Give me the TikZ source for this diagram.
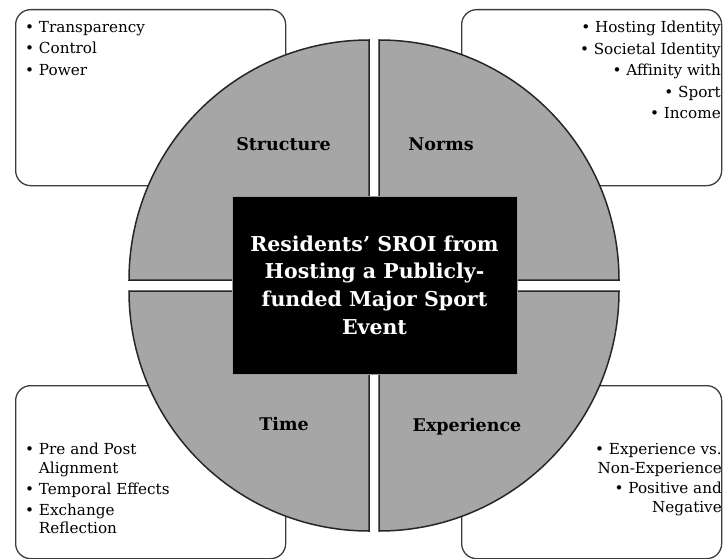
\documentclass[tikz,border=0pt]{standalone}
\usepackage{fontspec}
\setmainfont{DejaVu Serif}

\definecolor{quadgray}{RGB}{166,166,166}
\definecolor{edgegray}{RGB}{60,60,60}

\begin{document}
\begin{tikzpicture}[x=1pt,y=-1pt,
    panel/.style={draw=edgegray,line width=1.3pt,rounded corners=15pt,anchor=north west,inner sep=0pt},
    quad/.style={fill=quadgray,draw=black!85,line width=1.5pt},
    lbl/.style={anchor=base,font=\bfseries\fontsize{17.5}{21}\selectfont},
    items/.style={inner sep=0pt,font=\fontsize{15.2}{21.5}\selectfont}]

      \useasboundingbox (0,0) rectangle (723,559);

      \node[panel,minimum width=270pt,minimum height=176pt] (tlbox) at (15,9){};
      \node[panel,minimum width=260pt,minimum height=176pt] (trbox) at (461,9){};
      \node[panel,minimum width=270pt,minimum height=173pt] (blbox) at (15,385){};
      \node[panel,minimum width=260pt,minimum height=173pt] (brbox) at (461,385){};

      \draw[quad] (369,280) -- (129,280) arc[start angle=180,end angle=270,radius=240] -- cycle;
      \draw[quad] (379,280) -- (379,40) arc[start angle=270,end angle=360,radius=240] -- cycle;
      \draw[quad] (379,291) -- (619,291) arc[start angle=0,end angle=90,radius=240] -- cycle;
      \draw[quad] (369,291) -- (369,531) arc[start angle=90,end angle=180,radius=240] -- cycle;

      \node[fill=black,draw=gray!80,line width=0.8pt,minimum width=285pt,minimum height=178pt,
            text=white,align=center,font=\bfseries\fontsize{20.5}{27.7}\selectfont] (sroi) at (374.5,285)
            {Residents’ SROI from\\Hosting a Publicly-\\funded Major Sport\\Event};

      \node[lbl] (structure) at (283.5,151){Structure};
      \node[lbl] (norms) at (441,151){Norms};
      \node[lbl] (time) at (284,430){Time};
      \node[lbl] (experience) at (467,431){Experience};

      \node[items,anchor=north west,align=left] (tlitems) at (25,21)
            {• Transparency\\• Control\\• Power};
      \node[items,anchor=north east,align=right] (tritems) at (721,21)
            {• Hosting Identity\\• Societal Identity\\• Affinity with\\• Sport\\• Income};
      \node[items,anchor=north west,align=left,font=\fontsize{15.2}{18.5}\selectfont] (blitems) at (25,443)
            {• Pre and Post\\\hphantom{• }Alignment\\[2.5pt]• Temporal Effects\\[2.5pt]• Exchange\\\hphantom{• }Reflection};
      \node[items,anchor=north east,align=right,font=\fontsize{15.2}{19.5}\selectfont] (britems) at (722,443)
            {• Experience vs.\\Non-Experience\\• Positive and\\Negative};
    \end{tikzpicture}
\end{document}
